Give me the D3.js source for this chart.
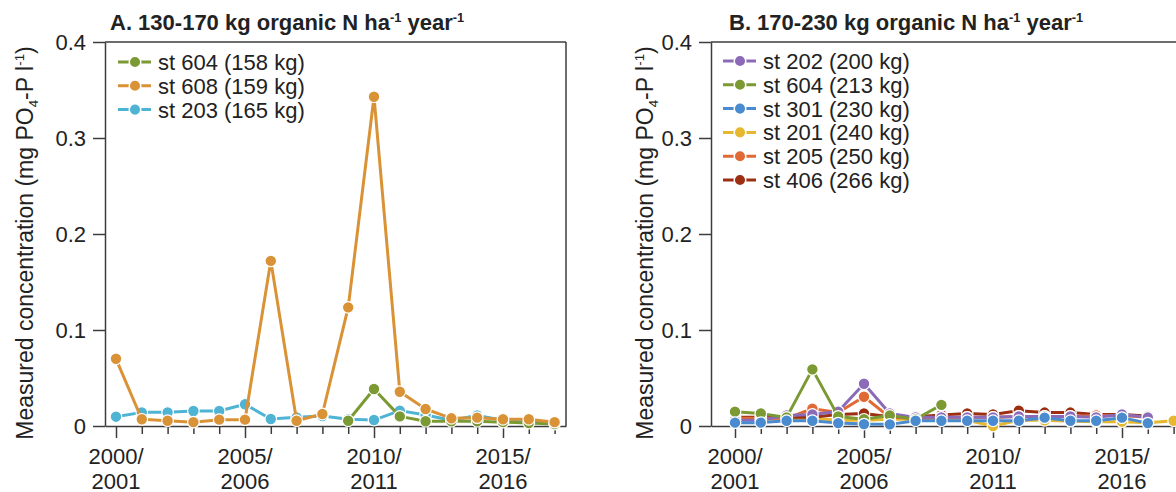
<!DOCTYPE html>
<html>
<head>
<meta charset="utf-8">
<script src="https://cdn.jsdelivr.net/npm/d3@7"></script>
<style>
body { margin: 0; background: #fff; }
text { font-family: "Liberation Sans", Arial, sans-serif; fill: #222; }
</style>
</head>
<body>
<script>
var years = [2000, 2001, 2002, 2003, 2004, 2005, 2006, 2007, 2008, 2009, 2010, 2011, 2012, 2013, 2014, 2015, 2016, 2017];
var majorYears = [2000, 2005, 2010, 2015];
var yearLabels = [["2000/", "2001"], ["2005/", "2006"], ["2010/", "2011"], ["2015/", "2016"]];
var yTicks = [0, 0.1, 0.2, 0.3, 0.4];

// panel A
var namesA = ["st 604 (158 kg)", "st 608 (159 kg)", "st 203 (165 kg)"];
var colorsA = ["#7b9a34", "#da9236", "#4fb3d3"];
var st604A = [null, null, null, null, null, null, null, null, null, 0.0055, 0.0385, 0.010, 0.005, 0.005, 0.005, 0.004, 0.003, 0.002];
var st608 = [0.070, 0.007, 0.0055, 0.004, 0.0066, 0.0066, 0.172, 0.0055, 0.0125, 0.1236, 0.343, 0.0357, 0.0177, 0.008, 0.0087, 0.007, 0.007, 0.004];
var st203 = [0.0097, 0.0142, 0.0142, 0.0156, 0.0156, 0.0226, 0.0073, 0.009, 0.0104, 0.007, 0.0062, 0.016, 0.0115, 0.006, 0.011, 0.006, 0.005, 0.003];

// panel B
var namesB = ["st 202 (200 kg)", "st 604 (213 kg)", "st 301 (230 kg)", "st 201 (240 kg)", "st 205 (250 kg)", "st 406 (266 kg)"];
var colorsB = ["#8b6bb8", "#7b9a34", "#4a8bd0", "#e5b830", "#e06a35", "#9c2f12"];
var st202 = [0.006, 0.006, 0.011, 0.012, 0.015, 0.044, 0.013, 0.009, 0.009, 0.009, 0.009, 0.010, 0.010, 0.010, 0.009, 0.012, 0.009, null];
var st604B = [0.0149, 0.013, 0.009, 0.059, 0.010, 0.007, 0.011, 0.007, 0.022, null, null, null, null, null, null, null, null, null];
var st301 = [0.0035, 0.0035, 0.0055, 0.0055, 0.003, 0.002, 0.0017, 0.0055, 0.0055, 0.0055, 0.0055, 0.0055, 0.0087, 0.0055, 0.0055, 0.0087, 0.003, null];
var st201 = [0.007, 0.007, 0.007, 0.008, 0.006, 0.006, 0.007, 0.007, 0.007, 0.006, 0.000, 0.006, 0.006, 0.005, 0.0045, 0.0045, 0.0035, 0.0055];
var st205 = [0.008, 0.008, 0.008, 0.018, 0.014, 0.0305, 0.009, 0.008, 0.009, 0.009, 0.009, 0.010, 0.010, 0.010, 0.011, 0.011, 0.009, null];
var st406 = [0.009, 0.009, 0.009, 0.009, 0.012, 0.013, 0.0097, 0.0097, 0.0115, 0.013, 0.012, 0.016, 0.014, 0.014, 0.012, 0.012, 0.0104, null];

(function() {
    var w = 1176, h = 492;
    var axisColor = "#3c3c3c";
    var plotTop = 42, plotBottom = 426, pxPerYear = 25.8;

    var svg = d3.select("body").append("svg").attr("width", w).attr("height", h);

    // text made of pieces, some raised or lowered; the shift is undone on the next piece
    function richText(sel, parts, size) {
        var shift = 0;
        parts.forEach(function(p) {
            var ts = sel.append("tspan").text(p.t);
            var target = p.sup ? -size * 0.38 : (p.sub ? size * 0.22 : 0);
            if (target !== shift) ts.attr("dy", target - shift);
            if (p.sup || p.sub) ts.attr("font-size", size * 0.58);
            shift = target;
        });
    }

    var panels = [
        { left: 105, right: 566, px0: 116, title: "A. 130-170 kg", labelX: 33, ticks: years,
          names: namesA, colors: colorsA, series: [st604A, st608, st203], drawOrder: [2, 0, 1],
          legX: 118, legY: 62, frameRight: true },
        { left: 711, right: 1200, px0: 735, title: "B. 170-230 kg", labelX: 653, ticks: years.concat([2018]),
          names: namesB, colors: colorsB, series: [st202, st604B, st301, st201, st205, st406], drawOrder: [3, 5, 4, 0, 1, 2],
          legX: 723, legY: 61, frameRight: false }
    ];

    panels.forEach(function(p) {
        var x = d3.scaleLinear()
            .domain([2000 - (p.px0 - p.left) / pxPerYear, 2000 + (p.right - p.px0) / pxPerYear])
            .range([p.left, p.right]);
        var y = d3.scaleLinear().domain([0, 0.4]).range([plotBottom, plotTop]);
        var g = svg.append("g");

        // frame
        g.append("line").attr("x1", p.left).attr("x2", p.right).attr("y1", plotTop).attr("y2", plotTop)
            .attr("stroke", axisColor).attr("stroke-width", 1.5);
        if (p.frameRight) {
            g.append("line").attr("x1", p.right).attr("x2", p.right).attr("y1", plotTop).attr("y2", plotBottom)
                .attr("stroke", axisColor).attr("stroke-width", 1.5);
        }

        // y axis
        var yAxis = d3.axisLeft(y).tickValues(yTicks).tickSize(12).tickPadding(7).tickSizeOuter(0)
            .tickFormat(function(d) { return d === 0 ? "0" : d3.format(".1f")(d); });
        var ya = g.append("g").attr("transform", "translate(" + p.left + ",0)").call(yAxis);
        ya.select(".domain").attr("stroke", axisColor).attr("stroke-width", 1.5);
        ya.selectAll(".tick line").attr("stroke", axisColor).attr("stroke-width", 1.5);
        ya.selectAll(".tick text").attr("font-size", 22).attr("font-family", "Liberation Sans, Arial, sans-serif").attr("fill", "#222");

        // x axis
        var xAxis = d3.axisBottom(x).tickValues(p.ticks).tickSizeOuter(0).tickFormat("");
        var xa = g.append("g").attr("transform", "translate(0," + plotBottom + ")").call(xAxis);
        xa.select(".domain").attr("stroke", axisColor).attr("stroke-width", 1.5);
        xa.selectAll(".tick line")
            .attr("y2", function(d) { return majorYears.indexOf(d) >= 0 ? 12 : 8; })
            .attr("stroke", axisColor).attr("stroke-width", 1.5);
        majorYears.forEach(function(yr, i) {
            var t = g.append("text").attr("x", x(yr)).attr("text-anchor", "middle").attr("font-size", 22);
            t.append("tspan").attr("x", x(yr)).attr("y", 464).text(yearLabels[i][0]);
            t.append("tspan").attr("x", x(yr)).attr("y", 489).text(yearLabels[i][1]);
        });

        // title
        var tt = g.append("text").attr("x", p.px0 - 6).attr("y", 30).attr("font-size", 22).attr("font-weight", "bold");
        richText(tt, [{ t: p.title + " organic N ha" }, { t: "-1", sup: true }, { t: " year" }, { t: "-1", sup: true }], 22);

        // y label
        var yl = g.append("text").attr("transform", "translate(" + p.labelX + "," + 243 + ") rotate(-90)")
            .attr("text-anchor", "middle").attr("font-size", 23);
        richText(yl, [{ t: "Measured concentration (mg PO" }, { t: "4", sub: true }, { t: "-P l" }, { t: "-1", sup: true }, { t: ")" }], 23);

        // series
        var line = d3.line()
            .defined(function(d) { return d != null; })
            .x(function(d, i) { return x(years[i]); })
            .y(function(d) { return y(d); });

        p.drawOrder.forEach(function(k) {
            var vals = p.series[k];
            g.append("path").datum(vals).attr("d", line)
                .attr("fill", "none").attr("stroke", p.colors[k]).attr("stroke-width", 3)
                .attr("stroke-linejoin", "round");
            g.selectAll(null)
                .data(vals.map(function(v, i) { return { v: v, yr: years[i] }; }).filter(function(d) { return d.v != null; }))
                .enter().append("circle")
                .attr("cx", function(d) { return x(d.yr); })
                .attr("cy", function(d) { return y(d.v); })
                .attr("r", 5.8)
                .attr("fill", p.colors[k]).attr("stroke", "#fff").attr("stroke-width", 1.2);
        });

        // legend
        p.names.forEach(function(name, i) {
            var cy = p.legY + i * 23.8;
            var lg = g.append("g");
            lg.append("line").attr("x1", p.legX).attr("x2", p.legX + 33).attr("y1", cy).attr("y2", cy)
                .attr("stroke", p.colors[i]).attr("stroke-width", 3);
            lg.append("circle").attr("cx", p.legX + 17).attr("cy", cy).attr("r", 5.8)
                .attr("fill", p.colors[i]).attr("stroke", "#fff").attr("stroke-width", 1.5);
            lg.append("text").attr("x", p.legX + 40).attr("y", cy + 8).attr("font-size", 22).text(name);
        });
    });
})();
</script>
</body>
</html>
